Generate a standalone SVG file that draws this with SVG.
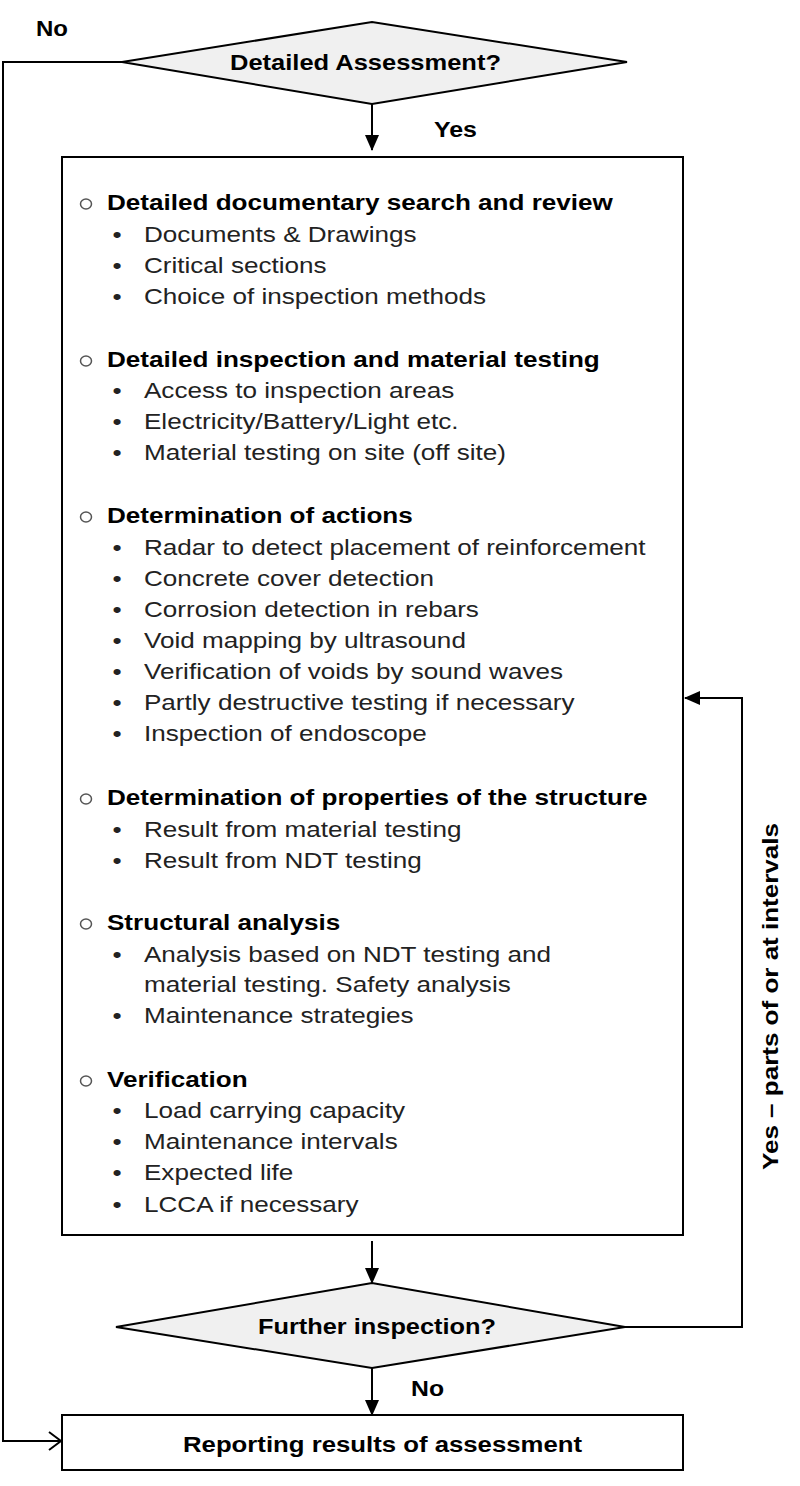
<svg xmlns="http://www.w3.org/2000/svg" width="800" height="1486" viewBox="0 0 800 1486">
<style>
  .lbl{font-family:"Liberation Sans",Arial,sans-serif;font-size:22px;font-weight:bold;fill:#000}
  .hd{font-family:"Liberation Sans",Arial,sans-serif;font-size:22px;font-weight:bold;fill:#000}
  .it{font-family:"Liberation Sans",Arial,sans-serif;font-size:22px;fill:#222}
  .bl{font-family:"Liberation Sans",Arial,sans-serif;font-size:22px;fill:#222;text-anchor:middle}
  .box{fill:#fff;stroke:#000;stroke-width:2}
  .dia{fill:#f0f0f0;stroke:#000;stroke-width:2}
  .con{fill:none;stroke:#000;stroke-width:2}
  .circ{fill:#fff;stroke:#555;stroke-width:1.5}
</style>
<defs>
  <marker id="arr" markerWidth="16" markerHeight="14" refX="15" refY="7" orient="auto" markerUnits="userSpaceOnUse">
    <path d="M0,0 L16,7 L0,14 Z" fill="#000"/>
  </marker>
  <marker id="open" markerWidth="14" markerHeight="20" refX="13" refY="10" orient="auto" markerUnits="userSpaceOnUse">
    <path d="M1,1 L13,10 L1,19" fill="none" stroke="#000" stroke-width="2"/>
  </marker>
</defs>
<rect width="800" height="1486" fill="#fff"/>

<g id="connectors">
  <path class="con" d="M372,104 L372,150" marker-end="url(#arr)"/>
  <path class="con" d="M372,1241 L372,1283" marker-end="url(#arr)"/>
  <path class="con" d="M372,1368 L372,1415" marker-end="url(#arr)"/>
  <path class="con" d="M625,1327 L742,1327 L742,698 L685,698" marker-end="url(#arr)"/>
  <path class="con" d="M122,62 L3,62 L3,1441 L61,1441" marker-end="url(#open)"/>
  <text class="lbl" x="36" y="36" textLength="32" lengthAdjust="spacingAndGlyphs">No</text>
  <text class="lbl" x="434" y="137" textLength="43" lengthAdjust="spacingAndGlyphs">Yes</text>
  <text class="lbl" x="411" y="1396" textLength="33" lengthAdjust="spacingAndGlyphs">No</text>
  <text class="lbl" transform="translate(778,997) rotate(-90)" x="-173" y="0" textLength="347" lengthAdjust="spacingAndGlyphs">Yes – parts of or at intervals</text>
</g>

<g id="decision1">
  <polygon class="dia" points="122,62 372,22 627,62 372,104"/>
  <text class="lbl" x="230" y="70" textLength="271" lengthAdjust="spacingAndGlyphs">Detailed Assessment?</text>
</g>

<g id="assessment">
  <rect class="box" x="62" y="157" width="621" height="1078"/>
  <ellipse class="circ" cx="86" cy="204" rx="5.5" ry="5"/>
  <ellipse class="circ" cx="86" cy="361" rx="5.5" ry="5"/>
  <ellipse class="circ" cx="86" cy="517" rx="5.5" ry="5"/>
  <ellipse class="circ" cx="86" cy="799" rx="5.5" ry="5"/>
  <ellipse class="circ" cx="86" cy="924" rx="5.5" ry="5"/>
  <ellipse class="circ" cx="86" cy="1081" rx="5.5" ry="5"/>
  <g transform="scale(1.186,1)">
    <text class="hd" x="90.2" y="210">Detailed documentary search and review</text>
    <text class="bl" x="98.7" y="242">•</text><text class="it" x="121.4" y="242">Documents &amp; Drawings</text>
    <text class="bl" x="98.7" y="273">•</text><text class="it" x="121.4" y="273">Critical sections</text>
    <text class="bl" x="98.7" y="304">•</text><text class="it" x="121.4" y="304">Choice of inspection methods</text>

    <text class="hd" x="90.2" y="367">Detailed inspection and material testing</text>
    <text class="bl" x="98.7" y="398">•</text><text class="it" x="121.4" y="398">Access to inspection areas</text>
    <text class="bl" x="98.7" y="429">•</text><text class="it" x="121.4" y="429">Electricity/Battery/Light etc.</text>
    <text class="bl" x="98.7" y="460">•</text><text class="it" x="121.4" y="460">Material testing on site (off site)</text>

    <text class="hd" x="90.2" y="523">Determination of actions</text>
    <text class="bl" x="98.7" y="555">•</text><text class="it" x="121.4" y="555">Radar to detect placement of reinforcement</text>
    <text class="bl" x="98.7" y="586">•</text><text class="it" x="121.4" y="586">Concrete cover detection</text>
    <text class="bl" x="98.7" y="617">•</text><text class="it" x="121.4" y="617">Corrosion detection in rebars</text>
    <text class="bl" x="98.7" y="648">•</text><text class="it" x="121.4" y="648">Void mapping by ultrasound</text>
    <text class="bl" x="98.7" y="679">•</text><text class="it" x="121.4" y="679">Verification of voids by sound waves</text>
    <text class="bl" x="98.7" y="710">•</text><text class="it" x="121.4" y="710">Partly destructive testing if necessary</text>
    <text class="bl" x="98.7" y="741">•</text><text class="it" x="121.4" y="741">Inspection of endoscope</text>

    <text class="hd" x="90.2" y="805">Determination of properties of the structure</text>
    <text class="bl" x="98.7" y="837">•</text><text class="it" x="121.4" y="837">Result from material testing</text>
    <text class="bl" x="98.7" y="868">•</text><text class="it" x="121.4" y="868">Result from NDT testing</text>

    <text class="hd" x="90.2" y="930">Structural analysis</text>
    <text class="bl" x="98.7" y="962">•</text><text class="it" x="121.4" y="962">Analysis based on NDT testing and</text>
    <text class="it" x="121.4" y="992">material testing. Safety analysis</text>
    <text class="bl" x="98.7" y="1023">•</text><text class="it" x="121.4" y="1023">Maintenance strategies</text>

    <text class="hd" x="90.2" y="1087">Verification</text>
    <text class="bl" x="98.7" y="1118">•</text><text class="it" x="121.4" y="1118">Load carrying capacity</text>
    <text class="bl" x="98.7" y="1149">•</text><text class="it" x="121.4" y="1149">Maintenance intervals</text>
    <text class="bl" x="98.7" y="1180">•</text><text class="it" x="121.4" y="1180">Expected life</text>
    <text class="bl" x="98.7" y="1212">•</text><text class="it" x="121.4" y="1212">LCCA if necessary</text>
  </g>
</g>

<g id="decision2">
  <polygon class="dia" points="116,1327 372,1283 625,1327 372,1368"/>
  <text class="lbl" x="258" y="1334" textLength="238" lengthAdjust="spacingAndGlyphs">Further inspection?</text>
</g>

<g id="reporting">
  <rect class="box" x="62" y="1415" width="621" height="55"/>
  <text class="lbl" x="183" y="1452" textLength="399" lengthAdjust="spacingAndGlyphs">Reporting results of assessment</text>
</g>
</svg>
